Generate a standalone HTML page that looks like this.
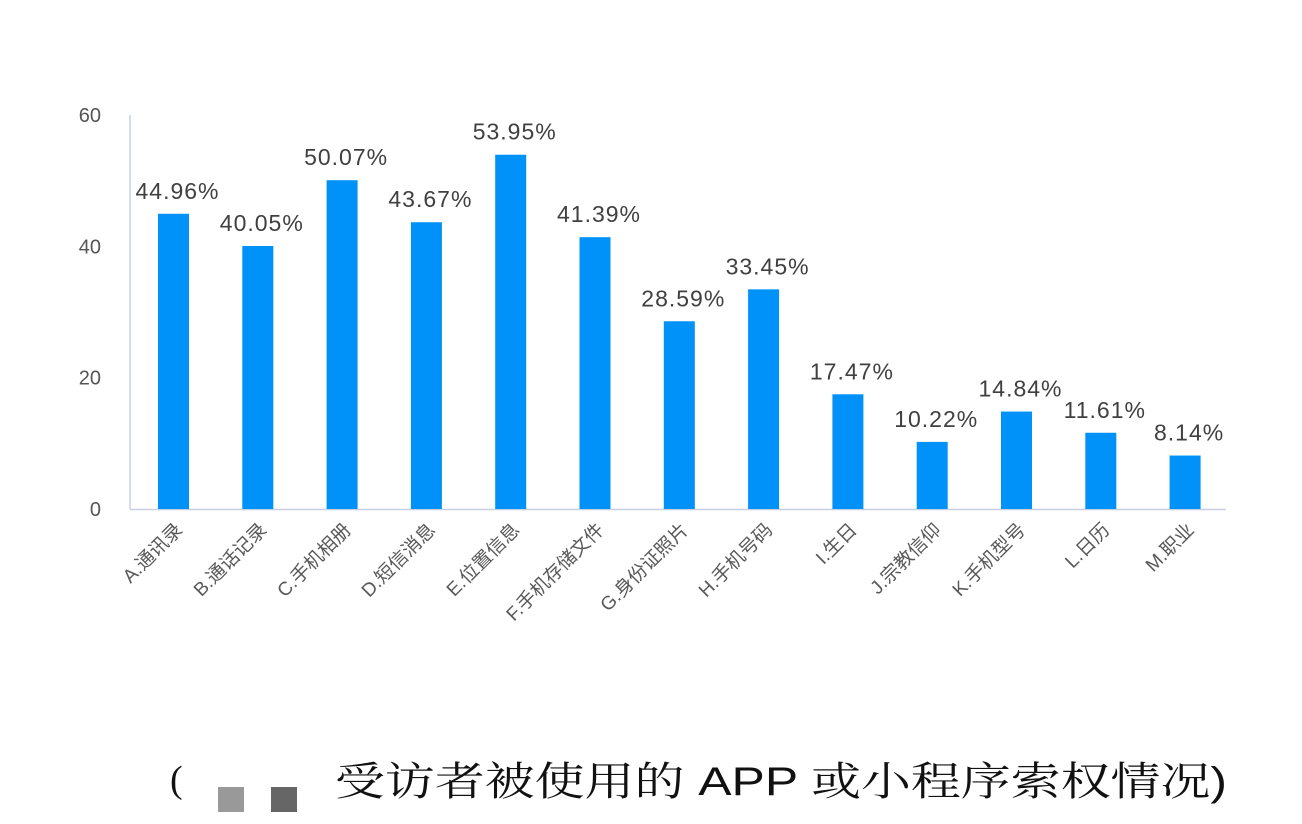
<!DOCTYPE html>
<html><head><meta charset="utf-8"><style>
html,body{margin:0;padding:0;background:#fff;}
svg{display:block;}
</style></head><body>
<svg id="chart" width="1302" height="824" viewBox="0 0 1302 824" xmlns="http://www.w3.org/2000/svg">
<g id="yaxis"></g>
<g id="bars"></g>
<g id="xlabels"></g>
<g>
<text x="170" y="792" font-family="'Liberation Serif','Noto Serif CJK SC',serif" font-size="38" fill="#111">(</text>
<rect x="218" y="787" width="26" height="25" fill="#999"/>
<rect x="271" y="787" width="26" height="25" fill="#666"/>
<text x="335" y="795" textLength="892" lengthAdjust="spacingAndGlyphs" font-family="'Liberation Sans','Noto Serif CJK SC',serif" font-size="40" fill="#111">受访者被使用的 APP 或小程序索权情况)</text>
</g>
</svg>
<script>
const categories = ["A.通讯录","B.通话记录","C.手机相册","D.短信消息","E.位置信息","F.手机存储文件","G.身份证照片","H.手机号码","I.生日","J.宗教信仰","K.手机型号","L.日历","M.职业"];
const values = [44.96,40.05,50.07,43.67,53.95,41.39,28.59,33.45,17.47,10.22,14.84,11.61,8.14];
const yTicks = [0,20,40,60];

const NS="http://www.w3.org/2000/svg";
const y0=509, pxPerUnit=(509-115)/60;
const yScale=v=>y0-v*pxPerUnit;
const x0=173.5, step=84.3, barW=31;
const xScale=i=>x0+i*step;
const font="'Liberation Sans','Noto Sans CJK SC',sans-serif";
function mk(tag,attrs,parent){const e=document.createElementNS(NS,tag);for(const k in attrs)e.setAttribute(k,attrs[k]);parent.appendChild(e);return e;}

const ya=document.getElementById('yaxis');
const axl=mk('line',{x1:130,y1:115,x2:130,y2:y0,stroke:'#c9cfe3','stroke-width':1.5},ya);


const xl=mk('line',{x1:130,y1:y0+0.5,x2:1226,y2:y0+0.5,stroke:'#c9cfe3','stroke-width':1.5},ya);


yTicks.forEach(t=>{
  const tx=mk('text',{x:101,y:yScale(t)+7,'text-anchor':'end','font-family':font,'font-size':20,fill:'#555'},ya);
  tx.textContent=t;
  
  
});

const bg=document.getElementById('bars');
const xg=document.getElementById('xlabels');
values.forEach((v,i)=>{
  const cx=xScale(i);
  const r=mk('rect',{x:cx-barW/2,y:yScale(v),width:barW,height:y0-yScale(v),fill:'#0092f8'},bg);
  
  
  const lb=mk('text',{x:cx+4,y:yScale(v)-15,'text-anchor':'middle','font-family':font,'font-size':23,'letter-spacing':1,fill:'#404040'},bg);
  lb.textContent=v.toFixed(2)+'%';
  
  
  const cl=mk('text',{x:0,y:0,'text-anchor':'end','font-family':font,'font-size':19,fill:'#595959',transform:`translate(${cx+10},${y0+22}) rotate(-45)`},xg);
  cl.textContent=categories[i];
  
  
});
</script>
</body></html>
